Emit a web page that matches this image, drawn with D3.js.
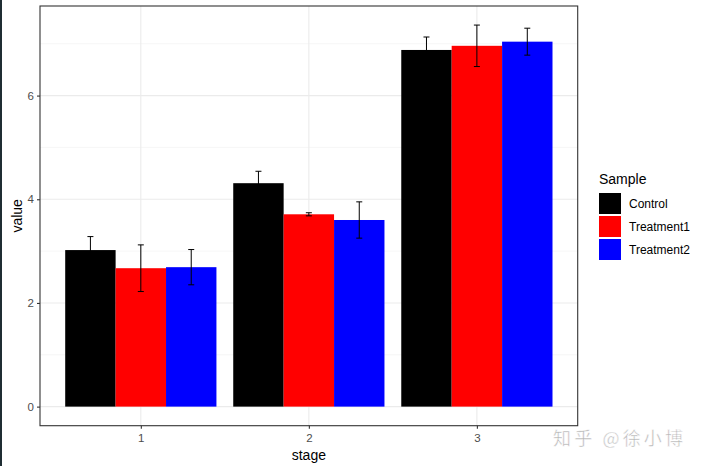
<!DOCTYPE html>
<html>
<head>
    <meta charset="utf-8">
    <script src="https://d3js.org/d3.v7.min.js"></script>
    <style>
        body { margin: 0; background: #fff; }
        text { font-family: Arial, "Liberation Sans", sans-serif; }
        .tick text { fill: #4d4d4d; font-size: 11.5px; }
        .axis-title { fill: #000; font-size: 14px; }
        .legend text { fill: #000; }
    </style>
</head>
<body>
<svg width="701" height="466"></svg>
<script>
    const stages = ['1', '2', '3'];
    const samples = ['Control', 'Treatment1', 'Treatment2'];
    const colors = ['#000000', '#ff0000', '#0000ff'];
    // mean values per sample, one entry per stage
    const control = [3.02, 4.31, 6.88];
    const treatment1 = [2.67, 3.71, 6.96];
    const treatment2 = [2.69, 3.60, 7.04];
    // error bar half widths
    const controlErr = [0.26, 0.23, 0.25];
    const treatment1Err = [0.45, 0.03, 0.40];
    const treatment2Err = [0.34, 0.35, 0.26];
    const yTicks = [0, 2, 4, 6];
    const yMinor = [1, 3, 5, 7];

    const means = [control, treatment1, treatment2];
    const errs = [controlErr, treatment1Err, treatment2Err];
    const rows = [];
    samples.forEach((s, i) => {
        stages.forEach((st, j) => {
            rows.push({ sample: s, stage: st, value: means[i][j], err: errs[i][j], color: colors[i] });
        });
    });

    const svg = d3.select('svg');
    const panel = { left: 40, right: 577.7, top: 6, bottom: 425.7 };

    // left dark border of the screenshot
    svg.append('rect').attr('x', 0).attr('y', 0).attr('width', 2).attr('height', 466).attr('fill', '#1f2d33');

    // ggplot-style 5% expansion on y, 0.6 units on x
    const yMax = d3.max(rows, d => d.value + d.err);
    const pad = yMax * 0.05;
    const y = d3.scaleLinear().domain([-pad, yMax + pad]).range([panel.bottom, panel.top]);

    const unit = (panel.right - panel.left) / 3.2;
    const xCenter = st => panel.left + (0.6 + stages.indexOf(st)) * unit;
    const groupW = 0.9 * unit;
    const xSub = d3.scaleBand().domain(samples).range([-groupW / 2, groupW / 2]);

    const g = svg.append('g');

    // grid
    g.selectAll('.minor').data(yMinor).join('line')
        .attr('x1', panel.left).attr('x2', panel.right)
        .attr('y1', d => y(d)).attr('y2', d => y(d))
        .attr('stroke', '#f0f0f0').attr('stroke-width', 0.6);
    g.selectAll('.major').data(yTicks).join('line')
        .attr('x1', panel.left).attr('x2', panel.right)
        .attr('y1', d => y(d)).attr('y2', d => y(d))
        .attr('stroke', '#ebebeb').attr('stroke-width', 1.1);
    g.selectAll('.vmajor').data(stages).join('line')
        .attr('x1', d => xCenter(d)).attr('x2', d => xCenter(d))
        .attr('y1', panel.top).attr('y2', panel.bottom)
        .attr('stroke', '#ebebeb').attr('stroke-width', 1.1);

    // bars
    g.selectAll('.bar').data(rows).join('rect')
        .attr('x', d => xCenter(d.stage) + xSub(d.sample))
        .attr('width', xSub.bandwidth())
        .attr('y', d => y(d.value))
        .attr('height', d => y(0) - y(d.value))
        .attr('fill', d => d.color);

    // error bars
    const capW = 3;
    const eb = g.selectAll('.err').data(rows).join('g')
        .attr('transform', d => `translate(${xCenter(d.stage) + xSub(d.sample) + xSub.bandwidth() / 2},0)`);
    eb.append('line')
        .attr('y1', d => y(d.value + d.err)).attr('y2', d => y(d.value - d.err))
        .attr('stroke', '#000').attr('stroke-width', 1);
    eb.append('line')
        .attr('x1', -capW).attr('x2', capW)
        .attr('y1', d => y(d.value + d.err)).attr('y2', d => y(d.value + d.err))
        .attr('stroke', '#000').attr('stroke-width', 1);
    eb.append('line')
        .attr('x1', -capW).attr('x2', capW)
        .attr('y1', d => y(d.value - d.err)).attr('y2', d => y(d.value - d.err))
        .attr('stroke', '#000').attr('stroke-width', 1);

    // panel border
    g.append('rect')
        .attr('x', panel.left).attr('y', panel.top)
        .attr('width', panel.right - panel.left).attr('height', panel.bottom - panel.top)
        .attr('fill', 'none').attr('stroke', '#333333').attr('stroke-width', 1.1);

    // axes
    const yAxis = d3.axisLeft(y).tickValues(yTicks).tickSize(3).tickPadding(3);
    const yAxisG = svg.append('g').attr('transform', `translate(${panel.left},0)`).call(yAxis);
    const xScalePts = d3.scalePoint().domain(stages).range([xCenter('1'), xCenter('3')]);
    const xAxis = d3.axisBottom(xScalePts).tickSize(3).tickPadding(5);
    const xAxisG = svg.append('g').attr('transform', `translate(0,${panel.bottom})`).call(xAxis);
    [yAxisG, xAxisG].forEach(a => {
        a.select('.domain').remove();
        a.selectAll('.tick line').attr('stroke', '#333333').attr('stroke-width', 1.1);
        a.selectAll('.tick text').attr('fill', '#4d4d4d')
            .style('font-family', 'Arial, "Liberation Sans", sans-serif');
    });

    svg.append('text').attr('class', 'axis-title')
        .attr('x', (panel.left + panel.right) / 2).attr('y', 460)
        .attr('text-anchor', 'middle').text('stage');
    svg.append('text').attr('class', 'axis-title')
        .attr('transform', `translate(22,${(panel.top + panel.bottom) / 2}) rotate(-90)`)
        .attr('text-anchor', 'middle').text('value');

    // legend
    const legend = svg.append('g').attr('class', 'legend').attr('transform', 'translate(599,0)');
    legend.append('text').attr('x', 0).attr('y', 184).style('font-size', '14px').text('Sample');
    const li = legend.selectAll('.item').data(samples).join('g')
        .attr('transform', (d, i) => `translate(0,${193 + i * 23})`);
    li.append('rect').attr('width', 22).attr('height', 21).attr('fill', (d, i) => colors[i]);
    li.append('text').attr('x', 30).attr('y', 15).style('font-size', '12px').text(d => d);

    // watermark
    svg.append('text').attr('x', 553).attr('y', 445)
        .style('font-family', '"Noto Sans CJK SC", sans-serif').style('font-size', '18px')
        .attr('fill', '#b3b3b3').attr('stroke', '#ffffff').attr('stroke-width', 0.5)
        .attr('textLength', 130)
        .text('知乎 @徐小博');
</script>
</body>
</html>
